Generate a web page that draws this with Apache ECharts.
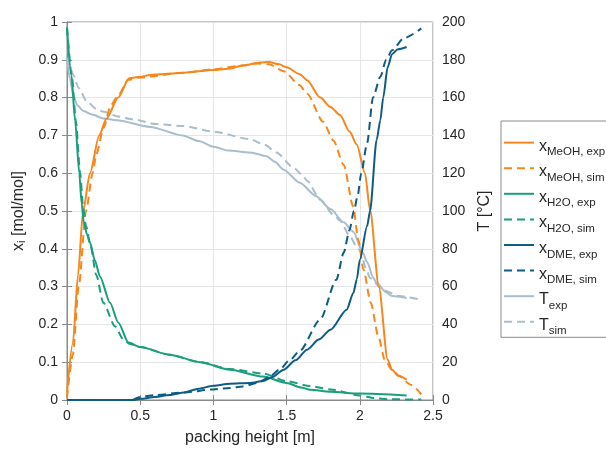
<!DOCTYPE html>
<html>
<head>
<meta charset="utf-8">
<script src="https://cdn.jsdelivr.net/npm/echarts@6/dist/echarts.min.js"></script>
<style>
html,body{margin:0;padding:0;background:#fff;}
#chart{width:606px;height:451px;}
</style>
</head>
<body>
<div id="chart"></div>
<script>
// x: packing height [m], y: mole fraction [mol/mol] or temperature [°C]
const xTicks = [0, 0.5, 1, 1.5, 2, 2.5];
const legendNames = ['MeOH, exp','MeOH, sim','H2O, exp','H2O, sim','DME, exp','DME, sim','exp','sim'];

const meohExp = [[0,0.02],[0.04,0.15],[0.075,0.33],[0.11,0.50],[0.157,0.60],[0.22,0.70],[0.27,0.745],[0.35,0.80],[0.424,0.851],[0.5,0.855],[0.567,0.86],[0.8,0.866],[1.0,0.873],[1.1,0.876],[1.2,0.885],[1.32,0.893],[1.38,0.894],[1.45,0.888],[1.5,0.88],[1.59,0.862],[1.64,0.846],[1.73,0.80],[1.8,0.775],[1.865,0.754],[1.93,0.71],[1.98,0.675],[2.035,0.60],[2.07,0.503],[2.13,0.30],[2.19,0.107],[2.22,0.08],[2.26,0.065],[2.32,0.054]];
const meohSim = [[0,0.005],[0.04,0.12],[0.08,0.30],[0.13,0.50],[0.175,0.60],[0.2,0.65],[0.25,0.72],[0.3,0.78],[0.34,0.80],[0.42,0.847],[0.5,0.853],[0.8,0.866],[1.0,0.875],[1.2,0.885],[1.3,0.89],[1.38,0.888],[1.48,0.87],[1.59,0.833],[1.64,0.81],[1.75,0.736],[1.82,0.686],[1.89,0.622],[1.955,0.512],[1.99,0.424],[2.025,0.345],[2.075,0.257],[2.127,0.168],[2.17,0.107],[2.22,0.08],[2.27,0.063],[2.35,0.04],[2.42,0.015]];
const h2oExp = [[0,0.985],[0.03,0.86],[0.055,0.74],[0.084,0.60],[0.1,0.52],[0.115,0.47],[0.135,0.44],[0.157,0.416],[0.19,0.37],[0.225,0.327],[0.294,0.257],[0.35,0.205],[0.42,0.152],[0.5,0.14],[0.7,0.12],[0.91,0.10],[1.113,0.08],[1.34,0.062],[1.5,0.045],[1.6,0.033],[1.66,0.027],[1.8,0.022],[2.0,0.017],[2.32,0.012]];
const h2oSim = [[0,0.985],[0.035,0.85],[0.06,0.74],[0.09,0.60],[0.11,0.51],[0.13,0.46],[0.16,0.41],[0.2,0.33],[0.248,0.257],[0.328,0.195],[0.385,0.16],[0.43,0.148],[0.5,0.14],[0.7,0.12],[0.91,0.10],[1.113,0.082],[1.34,0.07],[1.5,0.05],[1.66,0.037],[1.8,0.028],[2.0,0.012],[2.1,0.005],[2.2,0.002],[2.42,0.001]];
const dmeExp = [[0,0],[0.45,0],[0.5,0.003],[0.6,0.008],[0.7,0.013],[0.8,0.02],[0.9,0.03],[1.0,0.038],[1.113,0.043],[1.25,0.045],[1.34,0.05],[1.4,0.06],[1.48,0.08],[1.56,0.105],[1.64,0.133],[1.72,0.16],[1.8,0.186],[1.91,0.239],[1.956,0.283],[1.98,0.32],[2.0,0.371],[2.05,0.46],[2.07,0.50],[2.115,0.688],[2.14,0.74],[2.16,0.80],[2.19,0.88],[2.22,0.915],[2.26,0.928],[2.32,0.934]];
const dmeSim = [[0.45,0],[0.5,0.008],[0.6,0.013],[0.8,0.02],[1.0,0.028],[1.113,0.032],[1.2,0.036],[1.3,0.045],[1.38,0.06],[1.45,0.08],[1.52,0.105],[1.59,0.13],[1.73,0.213],[1.84,0.318],[1.89,0.39],[1.93,0.45],[1.96,0.5],[1.985,0.54],[2.01,0.60],[2.05,0.68],[2.09,0.80],[2.14,0.855],[2.18,0.9],[2.22,0.925],[2.3,0.957],[2.42,0.983]];
const tExp = [[0,181],[0.02,170],[0.043,161],[0.07,156],[0.11,153],[0.17,151],[0.248,149],[0.34,148],[0.567,144.5],[0.79,140],[0.9,137],[1.0,134],[1.1,132],[1.25,131],[1.364,129],[1.42,126],[1.477,122],[1.59,115],[1.7,108],[1.8,101],[1.89,94],[1.956,89],[2.02,78],[2.05,73],[2.09,65],[2.115,62],[2.18,57],[2.22,55],[2.32,54]];
const tSim = [[0,181],[0.02,176],[0.043,172],[0.08,165],[0.135,158],[0.2,154],[0.25,152.5],[0.35,150],[0.45,148.5],[0.61,146],[0.79,145],[1.0,142],[1.25,138],[1.35,135],[1.43,131],[1.546,123],[1.61,119],[1.64,116],[1.73,106],[1.82,98],[1.865,95],[1.93,87],[1.98,81],[2.0,79],[2.05,68],[2.07,64.5],[2.16,58],[2.27,55],[2.42,53]];

const cOrange = '#F7861C', cGreen = '#1A9E7D', cBlue = '#0E5B84', cGray = '#A8BECC';
const font = 'Liberation Sans, Arial, sans-serif';
const txt = '#262626';

function mk(name, data, color, dashed, yIdx) {
  return {
    name: name, type: 'line', data: data, yAxisIndex: yIdx || 0,
    showSymbol: false, symbol: 'none', smooth: 0.25, smoothMonotone: 'x',
    lineStyle: {color: color, width: 2, type: dashed ? [8,5] : 'solid'},
    itemStyle: {color: color}, z: yIdx ? 2 : 3
  };
}

const chart = echarts.init(document.getElementById('chart'), null, {renderer: 'canvas'});
const subNames = {'MeOH, exp':'x','MeOH, sim':'x','H2O, exp':'x','H2O, sim':'x','DME, exp':'x','DME, sim':'x','exp':'T','sim':'T'};
chart.setOption({
  animation: false,
  textStyle: {fontFamily: font},
  grid: {left: 67, right: 173, top: 22, bottom: 50, show: true, borderColor: '#8a8a8a', borderWidth: 1},
  legend: {
    orient: 'vertical', left: 501, top: 121,
    data: legendNames,
    itemWidth: 30, itemHeight: 14, itemGap: 4.5,
    padding: [16, 20, 0, 2],
    itemStyle: {opacity: 0},
    borderColor: '#8a8a8a', borderWidth: 1, backgroundColor: '#fff',
    formatter: function (n) { return '{m|' + subNames[n] + '}{s|' + n + '}'; },
    textStyle: {
      color: txt, fontFamily: font, padding: [7, 0, 0, 0],
      rich: {
        m: {fontSize: 16, fontFamily: font, color: txt, verticalAlign: 'middle', lineHeight: 24},
        s: {fontSize: 11.5, fontFamily: font, color: txt, verticalAlign: 'bottom', lineHeight: 14}
      }
    }
  },
  xAxis: [{
    type: 'value', min: 0, max: 2.5, interval: 0.5,
    axisLine: {show: true, lineStyle: {color: '#8a8a8a'}},
    axisTick: {show: true, inside: true, length: 5, lineStyle: {color: '#8a8a8a'}},
    axisLabel: {color: txt, fontSize: 14, fontFamily: font, margin: 9, formatter: v => String(v)},
    splitLine: {show: true, lineStyle: {color: '#e6e6e6'}},
    name: 'packing height [m]', nameLocation: 'middle', nameGap: 30,
    nameTextStyle: {color: txt, fontSize: 16, fontFamily: font}
  }, {
    type: 'value', min: 0, max: 2.5, interval: 0.5, position: 'top',
    axisLine: {show: true, lineStyle: {color: '#8a8a8a'}},
    axisTick: {show: true, inside: true, length: 5, lineStyle: {color: '#8a8a8a'}},
    axisLabel: {show: false}, splitLine: {show: false}
  }],
  yAxis: [{
    type: 'value', min: 0, max: 1, interval: 0.1,
    axisLine: {show: true, lineStyle: {color: '#8a8a8a'}},
    axisTick: {show: true, inside: true, length: 5, lineStyle: {color: '#8a8a8a'}},
    axisLabel: {color: txt, fontSize: 14, fontFamily: font, margin: 9, formatter: v => String(Math.round(v*10)/10)},
    splitLine: {show: true, lineStyle: {color: '#e6e6e6'}},
    name: '{m|x}{s|i}{m| [mol/mol]}', nameLocation: 'middle', nameGap: 38, nameRotate: 90,
    nameTextStyle: {color: txt, fontSize: 16, fontFamily: font, rich: {
      m: {fontSize: 16, fontFamily: font, color: txt},
      s: {fontSize: 11, fontFamily: font, color: txt, padding: [8,0,0,0]}
    }}
  }, {
    type: 'value', min: 0, max: 200, interval: 20, position: 'right',
    axisLine: {show: true, lineStyle: {color: '#8a8a8a'}},
    axisTick: {show: true, inside: true, length: 5, lineStyle: {color: '#8a8a8a'}},
    axisLabel: {color: txt, fontSize: 14, fontFamily: font, margin: 9},
    splitLine: {show: false},
    name: 'T [°C]', nameLocation: 'middle', nameGap: 40, nameRotate: 90,
    nameTextStyle: {color: txt, fontSize: 16, fontFamily: font}
  }],
  series: [
    mk('MeOH, exp', meohExp, cOrange, false),
    mk('MeOH, sim', meohSim, cOrange, true),
    mk('H2O, exp', h2oExp, cGreen, false),
    mk('H2O, sim', h2oSim, cGreen, true),
    mk('DME, exp', dmeExp, cBlue, false),
    mk('DME, sim', dmeSim, cBlue, true),
    mk('exp', tExp, cGray, false, 1),
    mk('sim', tSim, cGray, true, 1)
  ]
});
</script>
</body>
</html>
